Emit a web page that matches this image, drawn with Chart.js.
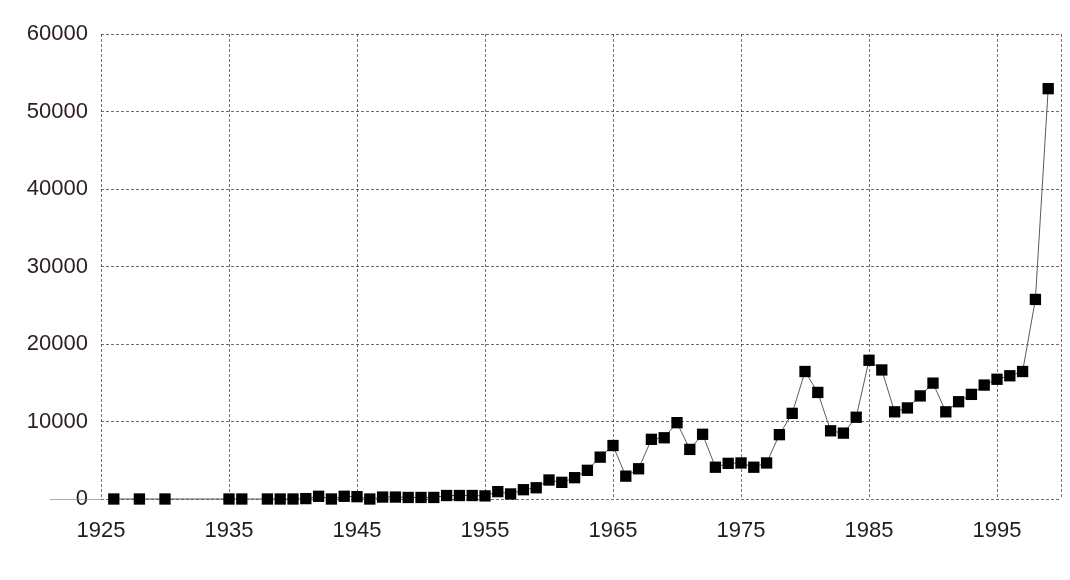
<!DOCTYPE html>
<html>
<head>
<meta charset="utf-8">
<script src="https://cdn.jsdelivr.net/npm/chart.js@4/dist/chart.umd.min.js"></script>
<style>
  html, body { margin: 0; padding: 0; background: #fff; }
  #wrap { width: 1070px; height: 580px; }
</style>
</head>
<body>
<div id="wrap"><canvas id="seriesChart" width="1070" height="580"></canvas></div>
<script>
const years = [
  1926, 1928, 1930, 1935, 1936, 1938, 1939, 1940, 1941, 1942,
  1943, 1944, 1945, 1946, 1947, 1948, 1949, 1950, 1951, 1952,
  1953, 1954, 1955, 1956, 1957, 1958, 1959, 1960, 1961, 1962,
  1963, 1964, 1965, 1966, 1967, 1968, 1969, 1970, 1971, 1972,
  1973, 1974, 1975, 1976, 1977, 1978, 1979, 1980, 1981, 1982,
  1983, 1984, 1985, 1986, 1987, 1988, 1989, 1990, 1991, 1992,
  1993, 1994, 1995, 1996, 1997, 1998, 1999
];

const values = [
  0, 0, 0, 0, 0, 0, 0, 0, 50, 350,
  0, 350, 300, 0, 250, 250, 200, 200, 200, 450,
  450, 450, 400, 950, 650, 1200, 1450, 2450, 2150, 2750,
  3700, 5400, 6900, 2950, 3900, 7700, 7900, 9850, 6400, 8350,
  4100, 4600, 4650, 4100, 4650, 8300, 11050, 16450, 13750, 8800,
  8500, 10550, 17900, 16650, 11250, 11750, 13300, 14950, 11250, 12550,
  13500, 14700, 15450, 15900, 16450, 25750, 52950
];

const xTicks = [1925, 1935, 1945, 1955, 1965, 1975, 1985, 1995, 2000];
const xLabelled = [1925, 1935, 1945, 1955, 1965, 1975, 1985, 1995];
const yTicks = [0, 10000, 20000, 30000, 40000, 50000, 60000];

const points = years.map((year, i) => ({ x: year, y: values[i] }));

const gridStyle = {
  color: 'rgba(70, 60, 60, 0.75)',
  lineWidth: 1,
  drawTicks: false
};

const tickFont = { family: '"Liberation Sans", Arial, sans-serif', size: 22 };

// faint extension of the zero line past the axis labels, as in the scan
const zeroLinePlugin = {
  id: 'zeroLine',
  beforeDatasetsDraw(chart) {
    const { ctx, chartArea, scales } = chart;
    const y = scales.y.getPixelForValue(0);
    ctx.save();
    ctx.strokeStyle = 'rgba(120, 120, 120, 0.6)';
    ctx.lineWidth = 1;
    ctx.beginPath();
    ctx.moveTo(50, y + 0.5);
    ctx.lineTo(chartArea.left, y + 0.5);
    ctx.stroke();
    ctx.restore();
  }
};

new Chart(document.getElementById('seriesChart'), {
  type: 'line',
  data: {
    datasets: [
      {
        data: points,
        borderColor: '#5a5a5a',
        borderWidth: 1,
        pointStyle: 'rect',
        pointRadius: 8,
        pointBorderWidth: 0,
        pointBackgroundColor: '#000',
        pointHoverRadius: 8,
        tension: 0,
        fill: false,
        clip: false
      }
    ]
  },
  options: {
    responsive: false,
    animation: false,
    layout: { autoPadding: false, padding: { top: 34, right: 9, left: 0, bottom: 0 } },
    plugins: {
      legend: { display: false },
      tooltip: { enabled: false }
    },
    scales: {
      x: {
        type: 'linear',
        min: 1925,
        max: 2000,
        afterBuildTicks: (scale) => {
          scale.ticks = xTicks.map((value) => ({ value }));
        },
        afterFit: (scale) => {
          scale.height = 81;
          scale.paddingLeft = 0;
          scale.paddingRight = 0;
        },
        grid: gridStyle,
        border: { display: false, dash: [3, 2] },
        ticks: {
          padding: 19,
          color: '#1e1e1e',
          font: tickFont,
          maxRotation: 0,
          autoSkip: false,
          callback: (value) => (xLabelled.includes(value) ? String(value) : '')
        }
      },
      y: {
        min: 0,
        max: 60000,
        afterBuildTicks: (scale) => {
          scale.ticks = yTicks.map((value) => ({ value }));
        },
        afterFit: (scale) => {
          scale.width = 101;
          scale.paddingTop = 0;
          scale.paddingBottom = 0;
        },
        grid: gridStyle,
        border: { display: false, dash: [3, 2] },
        ticks: {
          padding: 13,
          color: '#2e2020',
          font: tickFont,
          callback: (value) => String(value)
        }
      }
    }
  },
  plugins: [zeroLinePlugin]
});
</script>
</body>
</html>
